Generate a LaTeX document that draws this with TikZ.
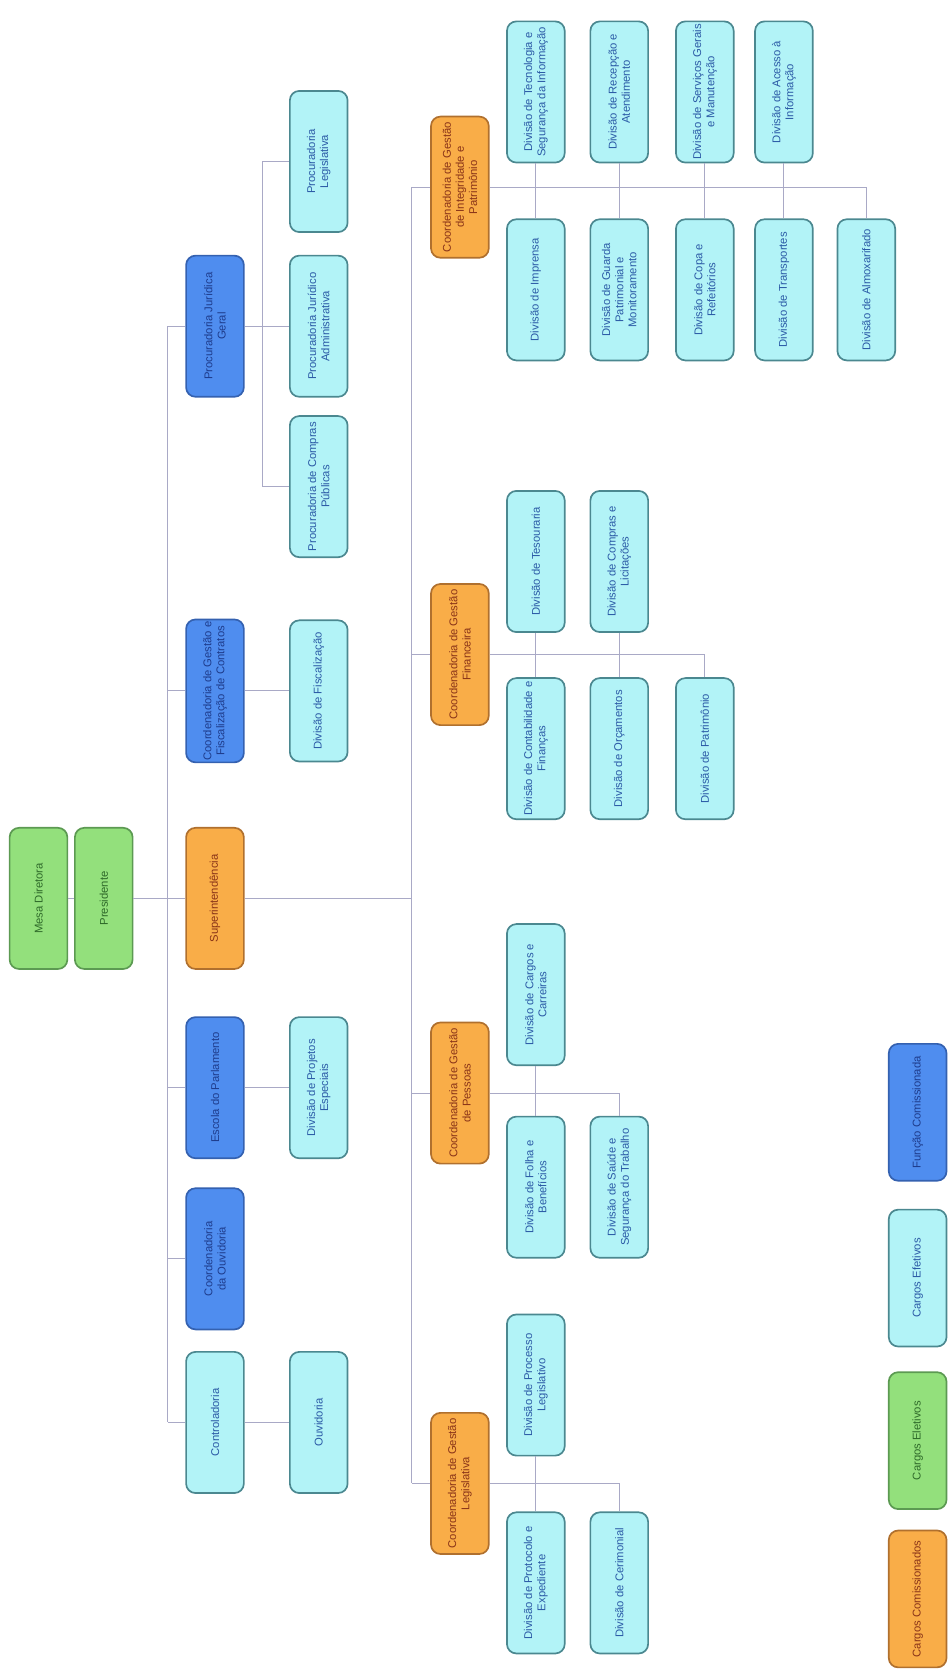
\documentclass[tikz,border=0pt]{standalone}
\usepackage{fontspec}
\setmainfont{Liberation Sans}
\usepackage{xcolor}
\usetikzlibrary{positioning}
\definecolor{EletivoFill}{HTML}{93E07C}
\definecolor{EletivoLine}{HTML}{5C9A52}
\definecolor{EletivoText}{HTML}{2F6A2A}
\definecolor{ComissFill}{HTML}{F9AD48}
\definecolor{ComissLine}{HTML}{B0702E}
\definecolor{ComissText}{HTML}{8A3418}
\definecolor{FuncaoFill}{HTML}{4F8DEF}
\definecolor{FuncaoLine}{HTML}{3461B0}
\definecolor{FuncaoText}{HTML}{1E3C8C}
\definecolor{EfetivoFill}{HTML}{B2F3F7}
\definecolor{EfetivoLine}{HTML}{4B8890}
\definecolor{EfetivoText}{HTML}{2B5AA6}
\definecolor{LinkGray}{HTML}{A9A9C6}

\begin{document}
\begin{tikzpicture}[
    x=0.02cm, y=-0.02cm,
    font=\fontsize{6}{7}\selectfont,
    box/.style={rotate=90,rounded corners=5pt,line width=0.9pt,minimum width=2.64cm,minimum height=1.08cm,align=center,inner sep=1pt},
    eletivo/.style={box,fill=EletivoFill,draw=EletivoLine,text=EletivoText},
    comiss/.style={box,fill=ComissFill,draw=ComissLine,text=ComissText},
    funcao/.style={box,fill=FuncaoFill,draw=FuncaoLine,text=FuncaoText},
    efetivo/.style={box,fill=EfetivoFill,draw=EfetivoLine,text=EfetivoText},
    legend/.style={minimum width=2.56cm},
    link/.style={draw=LinkGray,line width=0.5pt}
  ]
  \useasboundingbox (0,0) rectangle (886,1568);

  % top
  \node[eletivo] (mesa) at (36,840) {Mesa Diretora};
  \node[eletivo] (pres) at (97,840) {Presidente};

  % first level
  \coordinate (busA) at (157,305);
  \node[funcao] (procJG) at (201,305) {Procuradoria Jurídica\\Geral};
  \node[funcao] (coordFisc) at (201,646) {Coordenadoria de Gestão e\\Fiscalização de Contratos};
  \node[comiss] (super) at (201,840) {Superintendência};
  \node[funcao] (escola) at (201,1017) {Escola do Parlamento};
  \node[funcao] (coordOuv) at (201,1177) {Coordenadoria\\da Ouvidoria};
  \node[efetivo] (ctrl) at (201,1330) {Controladoria};

  \coordinate (busP) at (245,305);
  \node[efetivo] (procLeg) at (298,151) {Procuradoria\\Legislativa};
  \node[efetivo] (procJA) at (298,305) {Procuradoria Jurídico\\Administrativa};
  \node[efetivo] (procCP) at (298,455) {Procuradoria de Compras\\Públicas};
  \node[efetivo] (divFisc) at (298,646) {Divisão de Fiscalização};
  \node[efetivo] (divProj) at (298,1017) {Divisão de Projetos\\Especiais};
  \node[efetivo] (ouvid) at (298,1330) {Ouvidoria};

  % coordenadorias
  \coordinate (busB) at (385,175);
  \node[comiss] (cInteg) at (430,175) {Coordenadoria de Gestão\\de Integridade e\\Patrimônio};
  \node[comiss] (cFin) at (430,612) {Coordenadoria de Gestão\\Financeira};
  \node[comiss] (cPes) at (430,1022) {Coordenadoria de Gestão\\de Pessoas};
  \node[comiss] (cLeg) at (430,1387) {Coordenadoria de Gestão\\Legislativa};

  \node[efetivo] (dTec) at (501,86) {Divisão de Tecnologia e\\Segurança da Informação};
  \node[efetivo] (dRec) at (579,86) {Divisão de Recepção e\\Atendimento};
  \node[efetivo] (dServ) at (659,86) {Divisão de Serviços Gerais\\e Manutenção};
  \node[efetivo] (dAces) at (733,86) {Divisão de Acesso à\\Informação};
  \node[efetivo] (dImp) at (501,271) {Divisão de Imprensa};
  \node[efetivo] (dGuar) at (579,271) {Divisão de Guarda\\Patrimonial e\\Monitoramento};
  \node[efetivo] (dCopa) at (659,271) {Divisão de Copa e\\Refeitórios};
  \node[efetivo] (dTrans) at (733,271) {Divisão de Transportes};
  \node[efetivo] (dAlmox) at (810,271) {Divisão de Almoxarifado};

  \node[efetivo] (dTes) at (501,525) {Divisão de Tesouraria};
  \node[efetivo] (dComp) at (579,525) {Divisão de Compras e\\Licitações};
  \node[efetivo] (dCont) at (501,700) {Divisão de Contabilidade e\\Finanças};
  \node[efetivo] (dOrc) at (579,700) {Divisão de Orçamentos};
  \node[efetivo] (dPat) at (659,700) {Divisão de Patrimônio};

  \node[efetivo] (dCarg) at (501,930) {Divisão de Cargos e\\Carreiras};
  \node[efetivo] (dFolha) at (501,1110) {Divisão de Folha e\\Benefícios};
  \node[efetivo] (dSaude) at (579,1110) {Divisão de Saúde e\\Segurança do Trabalho};

  \node[efetivo] (dProc) at (501,1295) {Divisão de Processo\\Legislativo};
  \node[efetivo] (dProt) at (501,1480) {Divisão de Protocolo e\\Expediente};
  \node[efetivo] (dCer) at (579,1480) {Divisão de Cerimonial};

  % legenda
  \node[funcao,legend] (lgFunc) at (858,1040) {Função Comissionada};
  \node[efetivo,legend] (lgEfet) at (858,1195) {Cargos Efetivos};
  \node[eletivo,legend] (lgElet) at (858,1347) {Cargos Eletivos};
  \node[comiss,legend] (lgComi) at (858,1495) {Cargos Comissionados};

  % connectors
  \draw[link] (mesa) -- (pres);
  \draw[link] (pres) -- (super);
  \draw[link] (super) -- (super -| busB);
  \draw[link] (procJG -| busA) -- (ctrl -| busA);
  \foreach \n in {procJG,coordFisc,escola,coordOuv,ctrl}
    \draw[link] (\n -| busA) -- (\n);
  \draw[link] (coordFisc) -- (divFisc);
  \draw[link] (escola) -- (divProj);
  \draw[link] (ctrl) -- (ouvid);
  \draw[link] (procJG) -- (procJA);
  \draw[link] (procLeg -| busP) -- (procCP -| busP);
  \draw[link] (procLeg -| busP) -- (procLeg);
  \draw[link] (procCP -| busP) -- (procCP);

  \draw[link] (cInteg -| busB) -- (cLeg -| busB);
  \foreach \n in {cInteg,cFin,cPes,cLeg}
    \draw[link] (\n -| busB) -- (\n);
  \draw[link] (cInteg) -- (cInteg -| dAlmox);
  \foreach \n in {dTec,dRec,dServ,dAces,dImp,dGuar,dCopa,dTrans,dAlmox}
    \draw[link] (\n) -- (\n |- cInteg);
  \draw[link] (cFin) -- (cFin -| dPat);
  \foreach \n in {dTes,dComp,dCont,dOrc,dPat}
    \draw[link] (\n) -- (\n |- cFin);
  \draw[link] (cPes) -- (cPes -| dSaude);
  \foreach \n in {dCarg,dFolha,dSaude}
    \draw[link] (\n) -- (\n |- cPes);
  \draw[link] (cLeg) -- (cLeg -| dCer);
  \foreach \n in {dProc,dProt,dCer}
    \draw[link] (\n) -- (\n |- cLeg);
\end{tikzpicture}
\end{document}
